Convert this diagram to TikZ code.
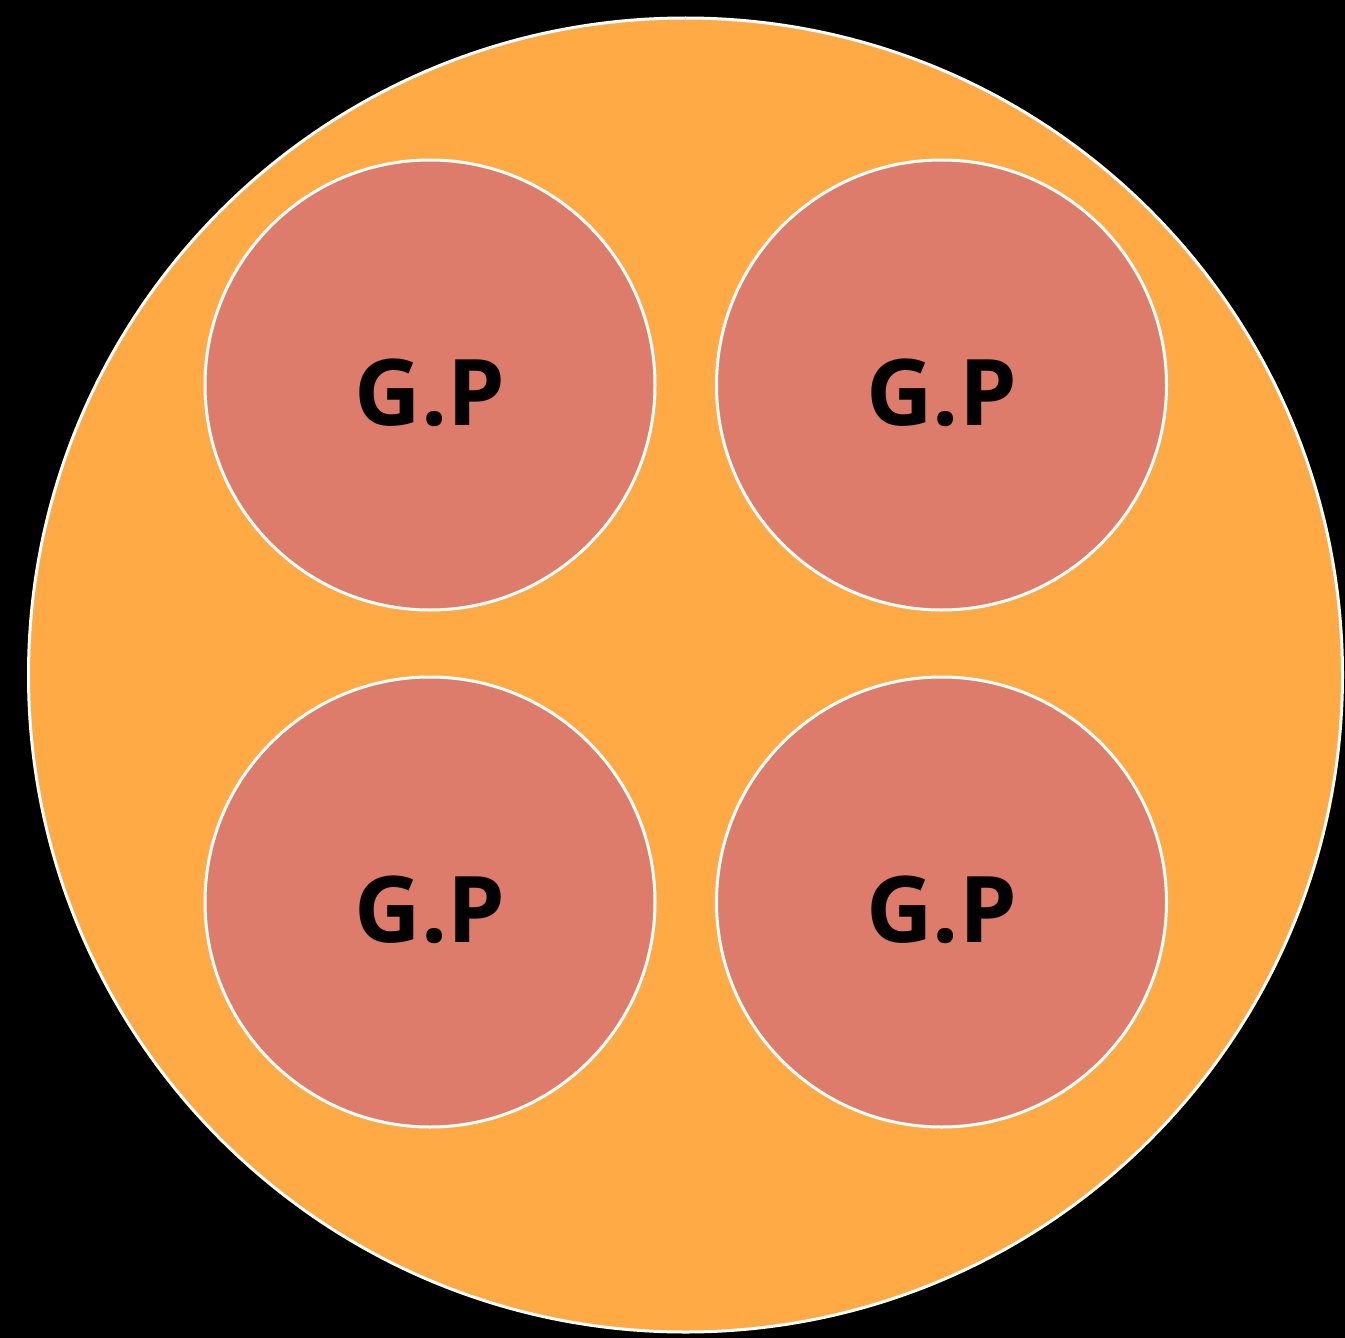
\documentclass[tikz,border=0pt]{standalone}
\usepackage{fontspec}
\setmainfont{Open Sans}
\definecolor{outerfill}{HTML}{FFAA44}
\definecolor{innerfill}{HTML}{DE7C6B}
% baseline sits 40pt below the circle centre
\newcommand{\gplabel}{\raisebox{-40pt}[0pt][0pt]{G.P}}
\begin{document}
\begin{tikzpicture}[x=1pt,y=-1pt,
  outer/.style={circle,draw=white,line width=3pt,fill=outerfill,minimum size=1314pt,inner sep=0pt},
  gp/.style={circle,draw=white,line width=3pt,fill=innerfill,minimum size=450pt,inner sep=0pt,
    font=\fontsize{92}{92}\selectfont\bfseries,text=black}]
  \fill[black] (0,0) rectangle (1345,1338);
  \useasboundingbox (0,0) rectangle (1345,1338);
  \node[outer] (whole) at (685.5,675) {};
  \node[gp] (tl) at (430,385) {\gplabel};
  \node[gp] (tr) at (941.5,385) {\gplabel};
  \node[gp] (bl) at (430,902) {\gplabel};
  \node[gp] (br) at (941.5,902) {\gplabel};
\end{tikzpicture}
\end{document}
